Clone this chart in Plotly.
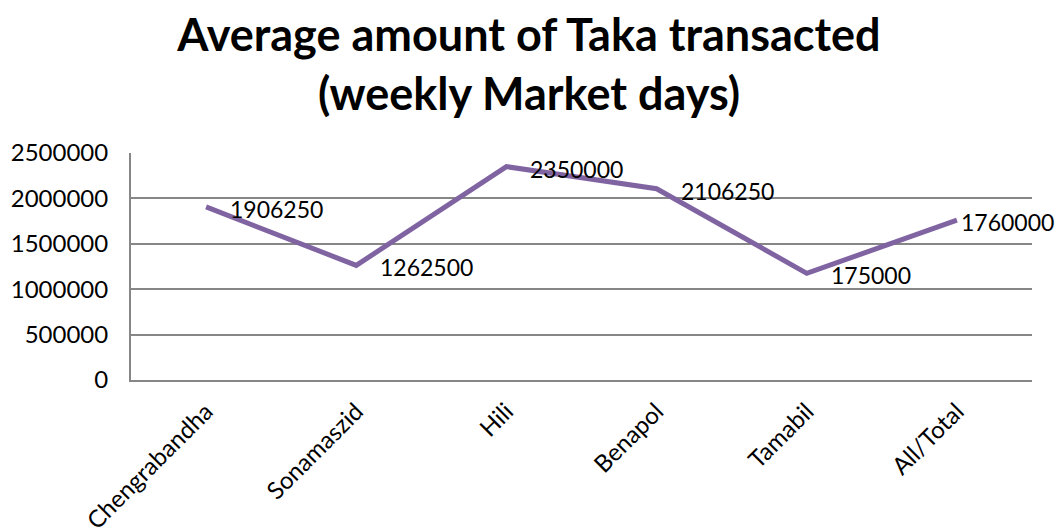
import plotly.graph_objects as go

categories = ["Chengrabandha", "Sonamaszid", "Hili", "Benapol", "Tamabil", "All/Total"]
values = [1906250, 1262500, 2350000, 2106250, 1175000, 1760000]
labels = ["1906250", "1262500", "2350000", "2106250", "175000", "1760000"]
y_ticks = [0, 500000, 1000000, 1500000, 2000000, 2500000]

FONT = "Lato, 'Open Sans', sans-serif"

fig = go.Figure()
fig.add_trace(go.Scatter(
    x=categories, y=values, mode="lines",
    line=dict(color="#8064A2", width=5),
    cliponaxis=False, showlegend=False, hoverinfo="x+y",
))

n = len(categories)
for i, (c, v, t) in enumerate(zip(categories, values, labels)):
    fig.add_annotation(
        x=c, y=v, text=t, showarrow=False, xanchor="left", yanchor="middle",
        xshift=2 if i == n - 1 else 22, yshift=-2,
        font=dict(family=FONT, size=23, color="#000000"),
    )

fig.update_layout(
    width=1058, height=531,
    margin=dict(l=131, r=26, t=153, b=151),
    paper_bgcolor="white", plot_bgcolor="white",
    title=dict(
        text="<b>Average amount of Taka transacted<br>(weekly Market days)</b>",
        x=529 / 1058, xanchor="center", xref="container",
        yref="container", y=1 - 51 / 531, yanchor="middle",
        font=dict(family=FONT, size=45, color="#000000"),
    ),
    xaxis=dict(
        type="category", tickangle=-45, showgrid=False, automargin=False,
        showline=True, linecolor="#868686", linewidth=2,
        ticks="", tickfont=dict(family=FONT, size=24, color="#000000"),
        ticklabelstandoff=6,
        range=[-0.5, 5.5],
    ),
    yaxis=dict(
        range=[0, 2500000], tickvals=y_ticks, ticktext=[str(v) for v in y_ticks],
        showgrid=True, gridcolor="#868686", gridwidth=1.5, automargin=False,
        showline=True, linecolor="#868686", linewidth=2,
        zeroline=False, ticks="", ticklen=0, ticklabelstandoff=16,
        tickfont=dict(family=FONT, size=24, color="#000000"),
    ),
)

fig.write_html(
    "out.html",
    config={"displayModeBar": False},
    post_script="document.body.style.margin='0';document.body.style.overflow='hidden';",
)
